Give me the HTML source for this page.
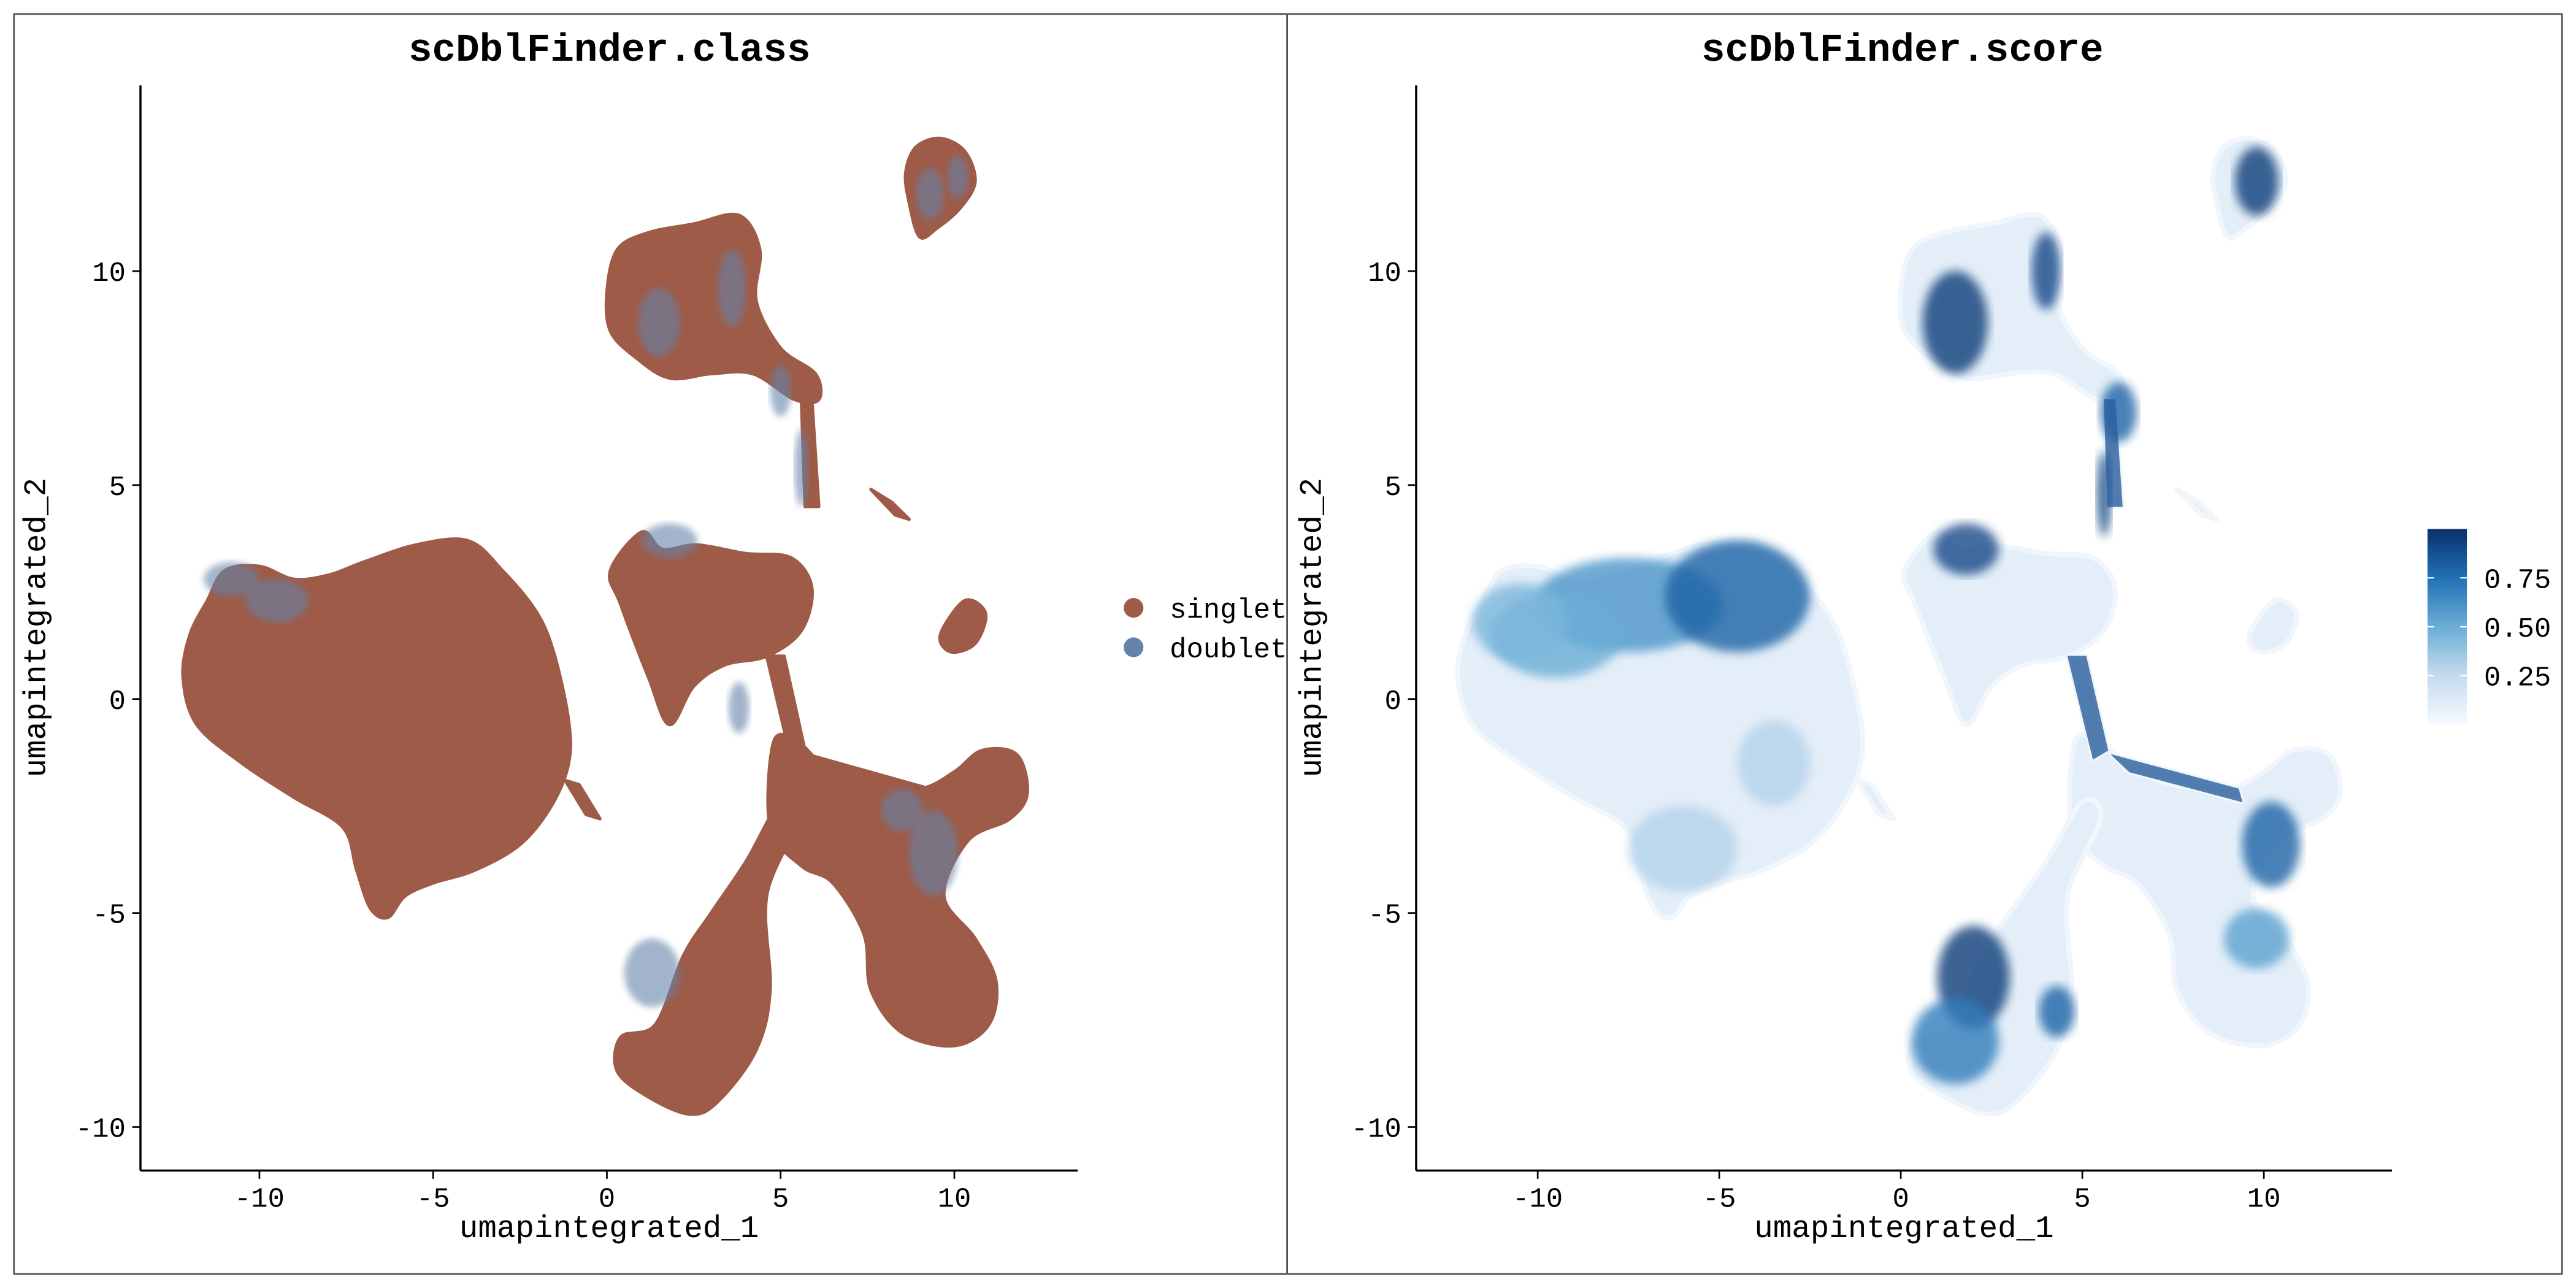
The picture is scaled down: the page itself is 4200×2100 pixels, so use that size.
<!DOCTYPE html>
<html><head><meta charset="utf-8"><style>
html,body{margin:0;padding:0;background:#fff;width:4200px;height:2100px;overflow:hidden}
svg{display:block}
text{font-family:"Liberation Mono","DejaVu Sans Mono",monospace;fill:#000}
</style></head><body>
<svg id="chart" width="4200" height="2100" viewBox="0 0 1568 784" xmlns="http://www.w3.org/2000/svg">
<defs>
<linearGradient id="cb" x1="0" y1="1" x2="0" y2="0">
<stop offset="0" stop-color="#f7fbff"/><stop offset="0.25" stop-color="#c6dbef"/><stop offset="0.5" stop-color="#6baed6"/><stop offset="0.75" stop-color="#2171b5"/><stop offset="1" stop-color="#08306b"/>
</linearGradient>
<filter id="blur1"><feGaussianBlur stdDeviation="2"/></filter>
<filter id="blur3"><feGaussianBlur stdDeviation="3"/></filter>
</defs>
<rect x="8.5" y="8.5" width="775" height="767" fill="#fff" stroke="#555" stroke-width="1"/>
<rect x="783.5" y="8.5" width="776" height="767" fill="#fff" stroke="#555" stroke-width="1"/>
<g id="left"></g>
<g id="right"></g>
<text x="371" y="37" font-size="24" font-weight="bold" text-anchor="middle">scDblFinder.class</text>
<text x="1158" y="37" font-size="24" font-weight="bold" text-anchor="middle">scDblFinder.score</text>
<g>
<circle cx="690" cy="370" r="6" fill="#9e5b48"/>
<text x="712" y="376" font-size="17">singlet</text>
<circle cx="690" cy="394" r="6" fill="#6583aa"/>
<text x="712" y="400" font-size="17">doublet</text>
</g>
<g>
<rect x="1477.6" y="322" width="24" height="119.6" fill="url(#cb)"/>
<g id="cbticks"></g>
</g>
</svg>
<script>
// ---- data ----
const xTicks = [-10, -5, 0, 5, 10];
const yTicks = [-10, -5, 0, 5, 10];
const cbTicks = [0.25, 0.50, 0.75];
// cluster outlines (UMAP coordinates)
const clusterNames = ["main","top","topright","middle","small1","small2","small3","lower","bottomleft","stem1","stem2","toptail"];
const clusterX = [
 [-12.2,-12,-11.5,-11,-10,-9,-8,-7,-5.5,-4,-3,-2,-1.5,-1.1,-1.1,-1.6,-2.5,-3.8,-5,-5.8,-6.3,-6.8,-7.2,-7.6,-9,-10.5,-11.8],
 [0,0.3,1.2,2.5,3.8,4.4,4.3,5.0,6.0,6.1,5.4,4.2,3.0,1.8,0.8,0.1],
 [8.6,8.9,9.6,10.3,10.6,10.2,9.5,9.0,8.7],
 [0.1,1.0,1.6,2.6,4.0,5.3,5.9,5.6,4.6,3.4,2.5,1.8,1.2,0.4],
 [7.6,8.2,8.7,8.3],
 [9.6,10.3,10.9,10.6,9.9],
 [-1.2,-0.8,-0.2,-0.6],
 [4.8,5.5,6.3,7.5,9.0,10.0,10.8,11.8,12.1,11.6,10.4,9.7,10.6,11.2,11.0,10.0,8.5,7.6,7.4,6.5,5.6,4.7],
 [0.4,1.4,2.2,3.0,4.0,5.0,5.5,4.6,4.7,4.3,3.2,2.4,1.2,0.3],
 [4.6,5.1,5.7,5.3],
 [5.8,6.3,9.4,9.3],
 [5.6,5.9,6.1,5.7]
];
const clusterY = [
 [0.5,1.5,2.3,3.0,3.1,2.8,2.9,3.2,3.6,3.7,3.0,2.0,1.0,-0.5,-1.5,-2.5,-3.4,-4.0,-4.3,-4.6,-5.1,-4.9,-4.0,-3.0,-2.3,-1.5,-0.6],
 [9.5,10.5,10.9,11.1,11.3,10.5,9.3,8.2,7.6,7.0,7.0,7.6,7.6,7.5,8.0,8.6],
 [12.3,12.9,13.1,12.8,12.1,11.5,11.0,10.8,11.6],
 [3.0,3.9,3.5,3.6,3.4,3.3,2.6,1.6,1.0,0.8,0.3,-0.6,0.5,2.2],
 [4.9,4.6,4.2,4.3],
 [1.5,2.3,2.0,1.3,1.1],
 [-1.9,-2.0,-2.8,-2.7],
 [-1.0,-1.0,-1.6,-2.0,-2.1,-1.7,-1.2,-1.3,-2.2,-2.8,-3.3,-4.6,-5.6,-6.6,-7.6,-8.1,-7.8,-6.8,-5.5,-4.3,-3.9,-3.0],
 [-7.9,-7.6,-6.0,-5.0,-3.8,-2.4,-2.8,-4.6,-6.8,-8.2,-9.4,-9.7,-9.3,-8.7],
 [1.0,1.0,-1.2,-1.4],
 [-1.3,-1.7,-2.4,-2.1],
 [7.0,7.0,4.5,4.5]
];
// doublet-enriched regions [x, y, rx, ry] in data units
const dblX  = [-10.8, -9.5, 3.6, 1.5, 9.3, 1.8, 1.3, 9.4, 5.6, 8.5, 5.0, 10.1, 3.8];
const dblY  = [2.8, 2.3, 9.6, 8.8, 11.8, 3.7, -6.4, -3.6, 5.4, -2.6, 7.2, 12.2, -0.2];
const dblRX = [0.8, 0.9, 0.4, 0.6, 0.4, 0.8, 0.8, 0.7, 0.2, 0.6, 0.3, 0.3, 0.3];
const dblRY = [0.4, 0.5, 0.9, 0.8, 0.6, 0.4, 0.8, 1.0, 0.9, 0.5, 0.6, 0.5, 0.6];
// high-score regions [x, y, rx, ry, score]
const hsX = [-7.5,-4.5,-9.5, 1.5, 4.0, 1.8, 9.8, 2.0, 1.5, 10.2, 9.8, 4.3, 6.0, 5.6,-6,-3.5,-10.5];
const hsY = [ 2.2, 2.4, 1.5, 8.8, 10.0, 3.5, 12.1,-6.5,-8.0,-3.4,-5.6,-7.3, 6.7, 4.8,-3.5,-1.5, 1.8];
const hsRX= [2.6, 2.0, 1.8, 0.9, 0.4, 0.9, 0.6, 1.0, 1.2, 0.8, 0.9, 0.5, 0.5, 0.2, 1.5, 1.0, 1.3];
const hsRY= [1.1, 1.3, 1.0, 1.2, 0.9, 0.6, 0.8, 1.2, 1.0, 1.0, 0.7, 0.6, 0.7, 1.0, 1.0, 1.0, 0.9];
const hsV = [0.6, 0.8,0.5, 0.95,0.9, 0.9, 0.95,0.95,0.7, 0.8, 0.55,0.8, 0.8, 0.9, 0.3,0.3,0.45];

const NS="http://www.w3.org/2000/svg";
const panels = {
 left:{x0:369.4,ux:21.15,axX:85.5,xEnd:656},
 right:{x0:1157,ux:22.1,axX:862,xEnd:1456}
};
const y0=425.5, uy=26.05, axY=712.5;
function sx(p,v){return p.x0+v*p.ux;}
function sy(v){return y0-v*uy;}
function el(tag,attrs,parent){const e=document.createElementNS(NS,tag);for(const k in attrs)e.setAttribute(k,attrs[k]);parent.appendChild(e);return e;}
function scoreColor(s){
 const stops=[[247,251,255],[198,219,239],[107,174,214],[33,113,181],[8,48,107]];
 const t=Math.max(0,Math.min(1,s))*4;const i=Math.min(3,Math.floor(t));const f=t-i;
 const c=stops[i].map((a,k)=>Math.round(a+(stops[i+1][k]-a)*f));return `rgb(${c[0]},${c[1]},${c[2]})`;
}
function drawAxes(p,g,name){
 el('line',{x1:p.axX,y1:52,x2:p.axX,y2:axY,stroke:'#000','stroke-width':1.3},g);
 el('line',{x1:p.axX,y1:axY,x2:p.xEnd,y2:axY,stroke:'#000','stroke-width':1.3},g);
 xTicks.forEach(v=>{
  const x=sx(p,v);
  const t=el('line',{x1:x,y1:axY,x2:x,y2:axY+5,stroke:'#000','stroke-width':1},g);
  
  
  const l=el('text',{x:x,y:axY+22,'font-size':17,'text-anchor':'middle'},g);l.textContent=v;
  
  
 });
 yTicks.forEach(v=>{
  const y=sy(v);
  const t=el('line',{x1:p.axX-5,y1:y,x2:p.axX,y2:y,stroke:'#000','stroke-width':1},g);
  
  
  const l=el('text',{x:p.axX-9,y:y+6,'font-size':17,'text-anchor':'end'},g);l.textContent=v;
  
  
 });
 const xl=el('text',{x:(p.axX+p.xEnd)/2,y:753,'font-size':19,'text-anchor':'middle'},g);xl.textContent='umapintegrated_1';
 
 
 const yx=p.axX-58;
 const yl=el('text',{x:yx,y:382,'font-size':19,'text-anchor':'middle',transform:`rotate(-90 ${yx} 382)`},g);yl.textContent='umapintegrated_2';
 
 
}
// smooth closed path (Catmull-Rom)
function clusterPath(p,i){
 const pts=clusterX[i].map((x,j)=>[sx(p,x),sy(clusterY[i][j])]);
 const n=pts.length;if(n<5)return 'M'+pts.map(q=>q[0].toFixed(1)+','+q[1].toFixed(1)).join('L')+'Z';
 let d='M'+pts[0][0].toFixed(1)+','+pts[0][1].toFixed(1);
 for(let k=0;k<n;k++){
  const p0=pts[(k-1+n)%n],p1=pts[k],p2=pts[(k+1)%n],p3=pts[(k+2)%n];
  const c1=[p1[0]+(p2[0]-p0[0])/6,p1[1]+(p2[1]-p0[1])/6];
  const c2=[p2[0]-(p3[0]-p1[0])/6,p2[1]-(p3[1]-p1[1])/6];
  d+=`C${c1[0].toFixed(1)},${c1[1].toFixed(1)} ${c2[0].toFixed(1)},${c2[1].toFixed(1)} ${p2[0].toFixed(1)},${p2[1].toFixed(1)}`;
 }
 return d+'Z';
}
// left panel
(function(){
 const p=panels.left,g=document.getElementById('left');
 const cg=el('g',{},g);
 clusterNames.forEach((n,i)=>{
  const e=el('path',{d:clusterPath(p,i),fill:'#9e5b48',stroke:'#9e5b48','stroke-width':2,'stroke-linejoin':'round'},cg);
  
  
 });
 dblX.forEach((x,i)=>{
  const e=el('ellipse',{cx:sx(p,x),cy:sy(dblY[i]),rx:dblRX[i]*p.ux,ry:dblRY[i]*uy,fill:'#6583aa',opacity:0.6,filter:'url(#blur1)'},g);
  
  
 });
 drawAxes(p,g,'left');
})();
// right panel
(function(){
 const p=panels.right,g=document.getElementById('right');
 clusterNames.forEach((n,i)=>{
  const e=el('path',{d:clusterPath(p,i),fill:'#e4eef8',stroke:'#f0f6fc','stroke-width':3,'stroke-linejoin':'round'},g);
  
  
 });
 hsX.forEach((x,i)=>{
  const e=el('ellipse',{cx:sx(p,x),cy:sy(hsY[i]),rx:hsRX[i]*p.ux,ry:hsRY[i]*uy,fill:scoreColor(hsV[i]),opacity:0.8,filter:'url(#blur3)'},g);
  
  
 });
 [9,10,11].forEach(i=>{
  const e=el('path',{d:clusterPath(p,i),fill:'#2a5f9e',stroke:'#2a5f9e','stroke-width':0.5,opacity:0.8},g);
  
  
 });
 drawAxes(p,g,'right');
})();
// colorbar ticks
(function(){
 const g=document.getElementById('cbticks');const top=322,h=119.6;
 const vmin=-0.005,vmax=1.0;
 cbTicks.forEach(v=>{
  const y=top+h*(1-(v-vmin)/(vmax-vmin));
  el('line',{x1:1477.6,y1:y,x2:1481.6,y2:y,stroke:'#fff','stroke-width':0.8},g);
  el('line',{x1:1497.6,y1:y,x2:1501.6,y2:y,stroke:'#fff','stroke-width':0.8},g);
  const t=el('text',{x:1512,y:y+6,'font-size':17},g);t.textContent=v.toFixed(2);
  
  
 });
})();
</script>
</body></html>
